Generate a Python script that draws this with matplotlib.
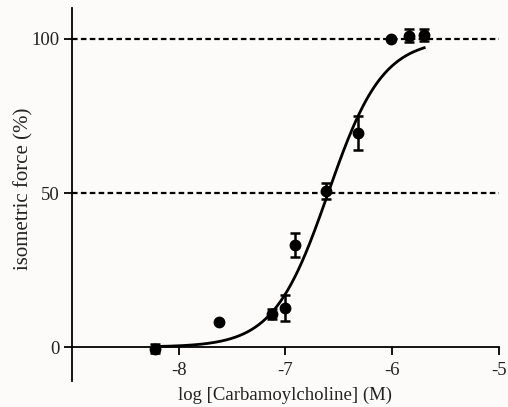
import numpy as np
import matplotlib.pyplot as plt

# log concentration (M) and isometric force (%) with SEM
log_conc = [-8.22, -7.62, -7.13, -7.00, -6.91, -6.62, -6.32, -6.01, -5.84, -5.70]
force = [-0.5, 8.0, 10.7, 12.7, 33.1, 50.6, 69.5, 100.0, 101.1, 101.3]
sem = [1.5, 0.0, 1.5, 4.2, 4.0, 2.7, 5.4, 0.0, 2.0, 2.0]

# fitted sigmoid parameters
log_ec50 = -6.6
hill = 1.7
bottom, top = 0.0, 100.0

plt.rcParams['font.family'] = ['Liberation Serif', 'DejaVu Serif']

fig = plt.figure(figsize=(5.08, 4.07), dpi=100)
fig.patch.set_facecolor('#fcfbf9')
ax = fig.add_axes([0.142, 0.064, 0.840, 0.916])
ax.set_facecolor('#fcfbf9')

# reference lines
ax.axhline(100, color='black', linestyle=(0, (2.5, 1.5)), linewidth=1.6, zorder=1)
ax.axhline(50, color='black', linestyle=(0, (2.5, 1.5)), linewidth=1.6, zorder=1)

# fitted curve
xs = np.linspace(min(log_conc), max(log_conc), 300)
ys = bottom + (top - bottom) / (1 + 10 ** ((log_ec50 - xs) * hill))
ax.plot(xs, ys, color='black', linewidth=2.0, zorder=2)

# data with error bars
ax.errorbar(log_conc, force, yerr=sem, fmt='o', color='black', markersize=7.5,
            elinewidth=1.8, capsize=3.5, capthick=1.8, zorder=3)

ax.set_xlim(-9, -5)
ax.set_ylim(-11, 110)
ax.set_xticks([-8, -7, -6, -5])
ax.set_xticklabels(['-8', '-7', '-6', '-5'])
ax.set_yticks([0, 50, 100])

ax.spines['top'].set_visible(False)
ax.spines['right'].set_visible(False)
ax.spines['bottom'].set_position(('data', 0))
ax.spines['bottom'].set_linewidth(1.3)
ax.spines['left'].set_linewidth(1.3)
ax.tick_params(axis='both', direction='out', length=6, width=1.3, labelsize=13.5,
               colors='black', labelcolor='#222222')
ax.tick_params(axis='x', pad=5)
ax.tick_params(axis='y', pad=3)

ax.set_xlabel('log [Carbamoylcholine] (M)', fontsize=13.5, color='#222222')
ax.set_ylabel('isometric force (%)', fontsize=15, color='#222222')
ax.xaxis.set_label_coords(0.5, -0.016)
ax.yaxis.set_label_coords(-0.091, 0.515)

fig.savefig('out.png', dpi=100, facecolor=fig.get_facecolor())
